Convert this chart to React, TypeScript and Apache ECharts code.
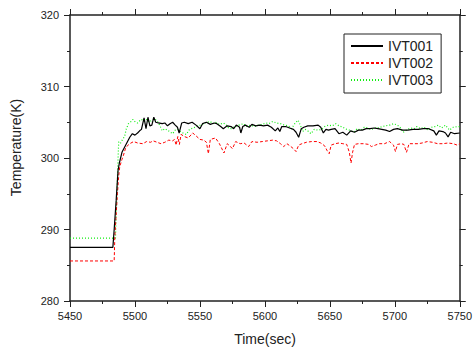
import React, { useEffect, useRef } from "react";
import * as echarts from "echarts";

const xTicks = { min: 5450, max: 5750, interval: 50 };
const yTicks = { min: 280, max: 320, interval: 10 };
const seriesNames = ["IVT001", "IVT002", "IVT003"];

const t001 = [5450, 5483, 5484, 5485.5, 5487, 5488, 5490, 5492, 5494, 5496, 5498, 5500, 5502, 5503.6, 5505, 5507, 5508.5, 5510, 5511.5, 5513, 5514.5, 5516, 5518, 5521, 5523, 5525, 5527, 5529, 5531, 5532.7, 5534, 5536, 5538, 5541, 5544, 5547, 5550, 5552, 5555, 5558, 5561, 5563, 5566, 5568, 5571, 5574, 5576, 5578, 5580.5, 5581.5, 5583, 5585, 5588, 5590, 5593, 5596, 5599, 5602, 5605, 5608, 5610, 5611.5, 5613, 5616, 5619, 5622, 5624, 5626, 5628, 5630, 5633, 5637, 5641, 5643, 5645, 5647, 5649, 5651, 5654, 5657, 5660, 5663, 5666, 5669, 5672, 5675, 5678, 5681, 5684, 5687, 5690, 5693, 5696, 5699, 5702, 5706, 5710, 5714, 5718, 5722, 5726, 5730, 5732, 5734, 5737, 5739, 5741, 5743, 5746, 5750];
const v001 = [287.5, 287.5, 290, 294, 298.3, 299.3, 300.8, 301.5, 302.2, 302.9, 303.4, 303.2, 303.5, 303.8, 304.0, 305.6, 304.1, 305.7, 304.5, 304.6, 305.7, 305.0, 304.9, 304.8, 304.9, 304.5, 304.8, 305.0, 304.6, 304.3, 303.5, 304.9, 305.0, 304.8, 305.0, 304.6, 304.1, 304.8, 305.0, 304.7, 304.9, 304.8, 304.4, 304.1, 304.5, 304.4, 304.1, 304.6, 304.3, 303.5, 304.4, 304.6, 304.3, 304.7, 304.5, 304.6, 304.5, 304.6, 304.3, 303.8, 304.2, 303.7, 304.4, 304.4, 304.2, 304.0, 303.6, 302.9, 304.1, 304.3, 304.5, 304.5, 304.6, 304.3, 303.5, 304.0, 303.9, 304.0, 304.1, 303.4, 303.6, 303.2, 303.8, 303.6, 303.9, 303.9, 304.1, 304.1, 304.2, 304.1, 304.0, 303.9, 303.7, 304.0, 304.1, 303.9, 303.9, 304.0, 304.0, 304.1, 304.1, 303.8, 303.2, 303.8, 303.7, 303.5, 302.95, 303.6, 303.4, 303.5];

const t002 = [5450, 5484, 5484.5, 5485.5, 5486.5, 5487.5, 5488.3, 5490, 5491, 5493, 5496, 5499, 5502, 5506, 5509, 5512, 5514, 5517, 5520, 5523, 5526, 5529, 5530.5, 5531.7, 5533, 5534.2, 5535.5, 5538, 5541, 5544.5, 5547, 5550, 5553, 5555, 5556.5, 5558, 5562, 5565, 5568.5, 5571, 5573, 5575, 5577.5, 5581, 5584, 5587.5, 5590, 5594, 5598, 5602, 5606, 5609, 5612, 5614.5, 5617, 5620, 5622, 5624, 5626, 5628.5, 5632, 5636, 5640, 5643, 5646, 5648, 5649.5, 5651, 5654, 5657, 5660, 5663, 5665, 5666.3, 5667.5, 5669, 5672, 5676, 5680, 5682, 5685, 5688, 5692, 5696, 5699, 5700.5, 5702, 5705, 5707, 5709, 5711, 5714, 5718, 5721, 5725, 5729, 5733, 5737, 5741, 5745, 5748, 5750];
const v002 = [285.6, 285.6, 289, 292, 295, 297.5, 298.8, 299.8, 300.3, 301.5, 302.0, 302.3, 302.1, 302.0, 302.3, 302.2, 302.4, 302.2, 302.0, 302.2, 302.5, 302.4, 302.6, 301.8, 303.0, 301.9, 303.3, 303.0, 302.8, 303.5, 303.1, 302.6, 302.5, 302.2, 300.6, 302.6, 302.8, 302.0, 300.7, 302.0, 301.7, 301.3, 302.3, 302.0, 302.1, 301.6, 302.3, 302.2, 302.3, 302.4, 302.5, 302.4, 302.0, 301.6, 302.0, 301.6, 301.3, 300.9, 301.8, 302.0, 302.2, 302.3, 302.3, 302.1, 301.7, 301.0, 300.6, 301.8, 302.0, 302.1, 302.0, 301.9, 300.8, 299.3, 300.8, 301.9, 302.0, 302.0, 301.9, 301.6, 301.8, 302.0, 302.0, 302.3, 301.8, 300.9, 301.9, 302.0, 301.9, 300.8, 302.0, 302.0, 302.0, 302.1, 302.3, 302.2, 302.0, 302.0, 302.1, 302.0, 301.8, 302.0];

const t003 = [5450, 5485, 5485.5, 5486.3, 5487, 5487.5, 5489, 5490.5, 5492, 5493.4, 5495, 5496.5, 5498.5, 5500, 5502, 5503.6, 5505, 5507, 5509, 5511, 5513, 5515, 5517, 5519, 5521, 5523, 5525, 5527.5, 5529, 5531, 5533, 5535, 5537, 5539.5, 5542, 5545, 5548, 5551, 5553, 5555, 5558, 5560, 5562, 5565, 5568, 5570, 5572, 5574, 5577, 5580, 5583.5, 5586, 5589, 5592, 5595, 5598, 5601, 5603, 5606, 5609, 5612, 5615, 5618, 5620.5, 5623, 5625.5, 5627.5, 5629, 5631, 5633, 5635.5, 5638, 5641, 5643.5, 5646, 5649, 5652, 5654.5, 5657, 5660, 5663, 5665, 5668.5, 5671, 5674, 5676.5, 5679, 5682, 5685, 5688, 5690, 5693, 5696, 5699, 5702, 5704, 5706.5, 5709, 5712, 5715, 5717, 5720, 5722.5, 5725.5, 5728, 5731, 5733.5, 5736, 5739, 5742, 5745, 5748.5, 5750];
const v003 = [288.8, 288.8, 292, 296, 300, 302.3, 302.1, 302.6, 303.0, 304.1, 304.8, 305.0, 305.4, 305.1, 304.9, 305.2, 305.4, 305.1, 305.4, 305.0, 305.3, 305.5, 305.2, 304.6, 303.8, 304.1, 303.9, 303.6, 303.4, 303.9, 304.0, 303.7, 303.5, 303.3, 304.0, 304.2, 304.5, 304.6, 304.8, 305.0, 305.1, 304.8, 305.0, 304.7, 304.9, 304.7, 304.2, 304.1, 304.4, 304.6, 304.8, 304.4, 304.6, 304.4, 304.6, 304.7, 304.9, 304.8, 305.1, 304.9, 304.8, 304.6, 304.5, 304.1, 304.8, 305.3, 304.5, 303.7, 304.0, 303.8, 303.4, 304.0, 303.9, 304.0, 304.4, 304.6, 304.5, 304.8, 304.5, 304.3, 304.0, 303.9, 303.6, 304.1, 303.9, 304.3, 304.2, 304.0, 304.2, 304.2, 304.4, 304.5, 304.6, 304.8, 304.6, 304.3, 303.6, 303.9, 304.2, 304.1, 304.4, 304.1, 304.3, 303.9, 304.3, 304.4, 304.6, 304.2, 304.6, 303.9, 304.3, 304.4, 304.4];

const FONT = "'Liberation Sans', Arial, sans-serif";
const AXIS_COLOR = "#222";

function zip(t: number[], v: number[]) {
  return t.map((x, i) => [x, v[i]]);
}

export default function App() {
  const ref = useRef<HTMLDivElement>(null);
  useEffect(() => {
    if (!ref.current) return;
    const chart = echarts.init(ref.current, null, { renderer: "svg" });
    const axisCommon = {
      type: "value" as const,
      axisLine: { show: true, onZero: false, lineStyle: { color: AXIS_COLOR, width: 1.5 } },
      axisTick: { show: true, inside: false, length: 6, lineStyle: { color: AXIS_COLOR, width: 1 } },
      minorTick: { show: true, splitNumber: 2, length: 3, lineStyle: { color: AXIS_COLOR, width: 1 } },
      splitLine: { show: false },
      minorSplitLine: { show: false },
    };
    const plain = (v: number) => String(v);
    chart.setOption({
      animation: false,
      backgroundColor: "#fff",
      grid: { left: 70, right: 13, top: 15, bottom: 50, containLabel: false },
      xAxis: [
        {
          ...axisCommon,
          position: "bottom",
          ...xTicks,
          axisLabel: { show: true, fontSize: 11, color: AXIS_COLOR, fontFamily: FONT, margin: 9, formatter: plain },
        },
        {
          ...axisCommon,
          position: "top",
          ...xTicks,
          axisLabel: { show: false },
        },
      ],
      yAxis: [
        {
          ...axisCommon,
          position: "left",
          ...yTicks,
          axisLabel: { show: true, fontSize: 11, color: AXIS_COLOR, fontFamily: FONT, margin: 11, formatter: plain },
        },
        {
          ...axisCommon,
          position: "right",
          ...yTicks,
          axisLabel: { show: false },
        },
      ],
      legend: {
        show: true,
        orient: "vertical",
        left: 344,
        top: 34,
        padding: [5, 8, 6, 6],
        itemGap: 3,
        itemWidth: 32,
        itemHeight: 14,
        itemStyle: { opacity: 0, borderWidth: 0 },
        borderColor: "#222",
        borderWidth: 1,
        backgroundColor: "#fff",
        textStyle: { fontSize: 14, color: "#222", fontFamily: FONT },
        data: seriesNames,
      },
      graphic: [
        {
          type: "text",
          x: 265,
          y: 338.5,
          style: { text: "Time(sec)", fontSize: 14, fontFamily: FONT, fill: "#222", align: "center", verticalAlign: "middle" },
        },
        {
          type: "text",
          x: 16,
          y: 147.5,
          rotation: Math.PI / 2,
          style: { text: "Temperature(K)", fontSize: 14, fontFamily: FONT, fill: "#222", align: "center", verticalAlign: "middle" },
        },
      ],
      series: [
        {
          name: seriesNames[0],
          type: "line",
          symbol: "none",
          data: zip(t001, v001),
          lineStyle: { color: "#000", width: 1.2, type: "solid" },
          itemStyle: { color: "#000" },
          z: 3,
        },
        {
          name: seriesNames[1],
          type: "line",
          symbol: "none",
          data: zip(t002, v002),
          lineStyle: { color: "#ff0000", width: 1, type: [3, 2] },
          itemStyle: { color: "#ff0000" },
          z: 2,
        },
        {
          name: seriesNames[2],
          type: "line",
          symbol: "none",
          data: zip(t003, v003),
          lineStyle: { color: "#11ee11", width: 1.2, type: [1, 2] },
          itemStyle: { color: "#11ee11" },
          z: 1,
        },
      ],
    });
    return () => chart.dispose();
  }, []);
  return (
    <div
      ref={ref}
      style={{ position: "fixed", left: 0, top: 0, width: 475, height: 351, background: "#fff" }}
    />
  );
}
